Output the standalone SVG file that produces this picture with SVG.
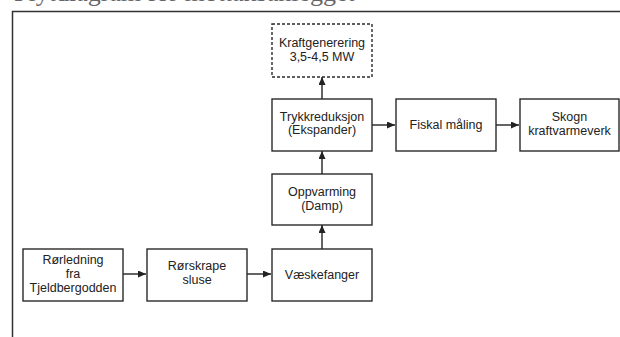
<svg xmlns="http://www.w3.org/2000/svg" width="620" height="337" viewBox="0 0 620 337">
<defs>
<style>
.box{fill:#fff;stroke:#2a2a2a;stroke-width:1.4}
.dash{fill:#fff;stroke:#2a2a2a;stroke-width:1.4;stroke-dasharray:3 2}
.t{font-family:"Liberation Sans",Arial,sans-serif;font-size:12.5px;fill:#222;text-anchor:middle}
.c{stroke:#222;stroke-width:1.4;fill:none;marker-end:url(#ah)}
.frame{stroke:#333;stroke-width:1.5;fill:none}
.title{font-family:"Liberation Serif","Times New Roman",serif;font-size:26px;fill:#666}
</style>
<marker id="ah" viewBox="0 0 8 7" refX="8" refY="3.5" markerWidth="8" markerHeight="7" markerUnits="userSpaceOnUse" orient="auto">
<path d="M0,0 L8,3.5 L0,7 Z" fill="#222"/>
</marker>
</defs>
<text class="title" x="14" y="1">Flytdiagram for mottaksanlegget</text>
<path class="frame" d="M12.5,337 V11.5 H620"/>
<g id="connectors">
<path class="c" d="M123,274 H146"/>
<path class="c" d="M247,274 H271"/>
<path class="c" d="M322,249 V225"/>
<path class="c" d="M322,174 V151"/>
<path class="c" d="M322,99 V77"/>
<path class="c" d="M372,125 H395"/>
<path class="c" d="M496,125 H519"/>
</g>
<g id="n1">
<rect class="box" x="23" y="249" width="100" height="52"/>
<text class="t" x="73" y="264">Rørledning</text>
<text class="t" x="73" y="278">fra</text>
<text class="t" x="73" y="292">Tjeldbergodden</text>
</g>
<g id="n2">
<rect class="box" x="147" y="249" width="100" height="52"/>
<text class="t" x="197" y="270">Rørskrape</text>
<text class="t" x="197" y="284">sluse</text>
</g>
<g id="n3">
<rect class="box" x="272" y="249" width="100" height="52"/>
<text class="t" x="322" y="279">Væskefanger</text>
</g>
<g id="n4">
<rect class="box" x="272" y="174" width="100" height="51"/>
<text class="t" x="322" y="196">Oppvarming</text>
<text class="t" x="322" y="210">(Damp)</text>
</g>
<g id="n5">
<rect class="box" x="272" y="99" width="100" height="52"/>
<text class="t" x="322" y="121">Trykkreduksjon</text>
<text class="t" x="322" y="134">(Ekspander)</text>
</g>
<g id="n6">
<rect class="dash" x="272" y="24" width="100" height="53"/>
<text class="t" x="322" y="47">Kraftgenerering</text>
<text class="t" x="322" y="61">3,5-4,5 MW</text>
</g>
<g id="n7">
<rect class="box" x="396" y="99" width="100" height="52"/>
<text class="t" x="446" y="129">Fiskal måling</text>
</g>
<g id="n8">
<rect class="box" x="520" y="99" width="99" height="52"/>
<text class="t" x="569.5" y="121">Skogn</text>
<text class="t" x="569.5" y="135">kraftvarmeverk</text>
</g>
</svg>
